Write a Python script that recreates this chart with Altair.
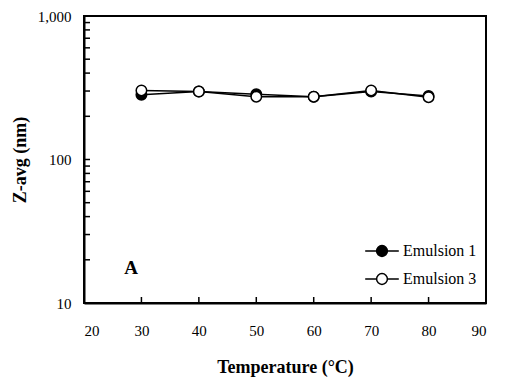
import altair as alt
import pandas as pd

temps = [30, 40, 50, 60, 70, 80]
emulsion1 = [283, 298, 285, 274, 298, 277]
emulsion3 = [303, 298, 274, 274, 303, 272]
series_names = ["Emulsion 1", "Emulsion 3"]
x_ticks = [20, 30, 40, 50, 60, 70, 80, 90]
y_major = [10, 100, 1000]
y_all = [10, 20, 30, 40, 50, 60, 70, 80, 90, 100, 200, 300, 400, 500, 600, 700, 800, 900, 1000]
panel_label = "A"

rows = []
for name, vals in zip(series_names, [emulsion1, emulsion3]):
    for t, v in zip(temps, vals):
        rows.append({"T": t, "Z": v, "series": name})
df = pd.DataFrame(rows)

FONT = "Liberation Serif"
W, H = 402, 287
TICK = 6

xs = alt.Scale(domain=[20, 90], nice=False)
ys = alt.Scale(type="log", domain=[10, 1000], nice=False)

x_axis = alt.Axis(orient="bottom", values=x_ticks, ticks=False, labelPadding=20,
                  title="Temperature (°C)", titlePadding=20)
y_axis = alt.Axis(orient="left", values=y_major, format=",", ticks=False, labelPadding=13,
                  title="Z-avg (nm)", titlePadding=8)

sym = "M-1.4,0H-0.45 M0.45,0H1.4 M-0.45,0A0.45,0.45 0 1,0 0.45,0A0.45,0.45 0 1,0 -0.45,0Z"

base = alt.Chart(df)

lines = base.mark_line(color="black", strokeWidth=1.5).encode(
    x=alt.X("T:Q", scale=xs, axis=x_axis),
    y=alt.Y("Z:Q", scale=ys, axis=y_axis),
    detail="series:N",
)

points = base.mark_point(filled=True, size=110, stroke="black", strokeWidth=1.5, opacity=1).encode(
    x=alt.X("T:Q", scale=xs),
    y=alt.Y("Z:Q", scale=ys),
    fill=alt.Fill("series:N", scale=alt.Scale(domain=series_names, range=["black", "white"]),
                  legend=alt.Legend(title=None, orient="none", legendX=285, legendY=222,
                                    symbolType=sym, symbolSize=576, symbolStrokeColor="black",
                                    symbolStrokeWidth=1.5, symbolOpacity=1,
                                    labelOffset=8, rowPadding=6, padding=0,
                                    labelFont=FONT, labelFontSize=16, labelColor="black")),
)

# inward axis ticks, positioned by the shared scales
xtick_df = pd.DataFrame({"T": x_ticks})
ytick_df = pd.DataFrame({"Z": y_all})
xticks = alt.Chart(xtick_df).mark_rule(color="black", strokeWidth=1.5).encode(
    x=alt.X("T:Q", scale=xs), y=alt.value(H), y2=alt.value(H - TICK)
)
yticks = alt.Chart(ytick_df).mark_rule(color="black", strokeWidth=1.5).encode(
    y=alt.Y("Z:Q", scale=ys), x=alt.value(0), x2=alt.value(TICK)
)

label_df = pd.DataFrame({"T": [28.2], "Z": [17.5], "txt": [panel_label]})
label = alt.Chart(label_df).mark_text(font=FONT, fontSize=19, fontWeight="bold", color="black").encode(
    x=alt.X("T:Q", scale=xs), y=alt.Y("Z:Q", scale=ys), text="txt:N"
)

chart = alt.layer(lines, xticks, yticks, points, label).properties(
    width=W, height=H,
    background="white",
    autosize=alt.AutoSizeParams(type="none"),
    padding={"left": 84, "top": 16, "right": 34, "bottom": 77},
).configure_view(stroke="black", strokeWidth=2).configure_axis(
    labelFont=FONT, labelFontSize=15, labelColor="black",
    titleFont=FONT, titleFontSize=18, titleFontWeight="bold", titleColor="black",
    domainColor="black", domainWidth=2, grid=False,
)

chart.save("out.html", embed_options={"renderer": "svg", "actions": False})
